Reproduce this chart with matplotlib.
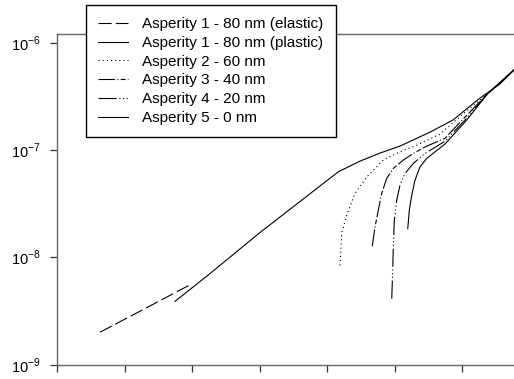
import matplotlib
matplotlib.use("Agg")
import matplotlib.pyplot as plt
from matplotlib.ticker import FixedLocator

plt.rcParams['font.family'] = ['Liberation Sans', 'DejaVu Sans']
plt.rcParams['lines.scale_dashes'] = False
plt.rcParams['mathtext.fontset'] = 'custom'
plt.rcParams['mathtext.rm'] = 'Liberation Sans'

# ---- data ----
labels = ["Asperity 1 - 80 nm (elastic)", "Asperity 1 - 80 nm (plastic)",
          "Asperity 2 - 60 nm", "Asperity 3 - 40 nm", "Asperity 4 - 20 nm",
          "Asperity 5 - 0 nm"]

x_a1_el = [0.637, 1.204, 1.985]
y_a1_el = [2.0e-9, 3.08e-9, 5.6e-9]

x_a1_pl = [1.748, 2.267, 2.993, 4.167, 4.489, 4.785, 5.081, 5.526, 5.867, 6.267, 6.563, 6.770]
y_a1_pl = [3.88e-9, 7.05e-9, 1.675e-8, 6.27e-8, 7.89e-8, 9.38e-8, 1.09e-7, 1.47e-7, 1.91e-7,
           3.06e-7, 4.14e-7, 5.60e-7]

x_a2 = [4.193, 4.218, 4.292, 4.415, 4.588, 4.834, 5.081, 5.329, 5.674, 6.015, 6.37, 6.77]
y_a2 = [8.41e-9, 1.675e-8, 2.47e-8, 3.94e-8, 5.62e-8, 8.07e-8, 9.64e-8, 1.11e-7, 1.41e-7,
        2.17e-7, 3.31e-7, 5.60e-7]

x_a3 = [4.671, 4.711, 4.760, 4.810, 4.884, 4.982, 5.130, 5.279, 5.452, 5.748, 6.044, 6.37, 6.77]
y_a3 = [1.27e-8, 1.92e-8, 2.75e-8, 3.94e-8, 5.45e-8, 6.75e-8, 8.07e-8, 9.31e-8, 1.07e-7,
        1.29e-7, 2.03e-7, 3.31e-7, 5.60e-7]

x_a4 = [4.959, 4.973, 4.982, 4.997, 5.033, 5.081, 5.156, 5.279, 5.452, 5.748, 6.059, 6.37, 6.77]
y_a4 = [4.11e-9, 7.57e-9, 1.25e-8, 2.22e-8, 3.41e-8, 4.71e-8, 6.05e-8, 7.52e-8, 9.31e-8,
        1.21e-7, 1.95e-7, 3.31e-7, 5.60e-7]

x_a5 = [5.196, 5.219, 5.255, 5.304, 5.378, 5.477, 5.748, 6.059, 6.37, 6.77]
y_a5 = [1.85e-8, 2.75e-8, 3.79e-8, 5.25e-8, 6.98e-8, 8.36e-8, 1.14e-7, 1.87e-7, 3.31e-7, 5.60e-7]

x_ticks = [0, 1, 2, 3, 4, 5, 6]
y_ticks = [1e-9, 1e-8, 1e-7, 1e-6]
y_ticklabels = [r"10$^{\mathregular{-9}}$", r"10$^{\mathregular{-8}}$",
                r"10$^{\mathregular{-7}}$", r"10$^{\mathregular{-6}}$"]

# ---- figure ----
W, H = 514, 379
fig = plt.figure(figsize=(W / 100, H / 100), dpi=100)
ax_w = 1 - 57 / W + 0.01
ax = fig.add_axes([57 / W, 1 - 364.5 / H, ax_w, (364.5 - 34) / H])

lw = 0.8
ax.plot(x_a1_el, y_a1_el, color='black', lw=lw, dashes=(9.5, 3), label=labels[0])
ax.plot(x_a1_pl, y_a1_pl, color='black', lw=lw, label=labels[1])
ax.plot(x_a2, y_a2, color='black', lw=lw, dashes=(0.8, 2.2), label=labels[2])
ax.plot(x_a3, y_a3, color='black', lw=lw, dashes=(12, 1.6, 0.8, 1.6, 3.5, 1.6), label=labels[3])
ax.plot(x_a4, y_a4, color='black', lw=lw, dashes=(13, 2, 0.8, 1.8, 0.8, 1.8, 0.8, 2), label=labels[4])
ax.plot(x_a5, y_a5, color='black', lw=lw, label=labels[5])

ax.set_yscale('log')
ax.set_xlim(0, 6.77 * ax_w / (1 - 57 / W))
ax.set_ylim(1e-9, 1.21e-6)
ax.yaxis.set_major_locator(FixedLocator(y_ticks))
ax.yaxis.set_minor_locator(FixedLocator([]))
ax.set_yticklabels(y_ticklabels, fontsize=10.5)
ax.set_xticks(x_ticks)
ax.set_xticklabels([])

spine_col = '#666666'
for s in ['left', 'bottom', 'top']:
    ax.spines[s].set_color(spine_col)
    ax.spines[s].set_linewidth(1.0)
ax.spines['right'].set_visible(False)
ax.tick_params(axis='both', direction='out', length=5, width=0.9, color='#333333')
ax.tick_params(axis='y', pad=7)

leg = ax.legend(loc='upper left', bbox_to_anchor=(85.7 / W, 1 - 5 / H),
                bbox_transform=fig.transFigure, borderaxespad=0, frameon=True,
                fancybox=False, shadow=False, fontsize=11, handlelength=1.95,
                handletextpad=0.95, labelspacing=0.31, borderpad=0.8)
leg.get_frame().set_edgecolor('black')
leg.get_frame().set_linewidth(1.0)
leg.get_frame().set_alpha(1.0)

fig.savefig('out.png', dpi=100)
